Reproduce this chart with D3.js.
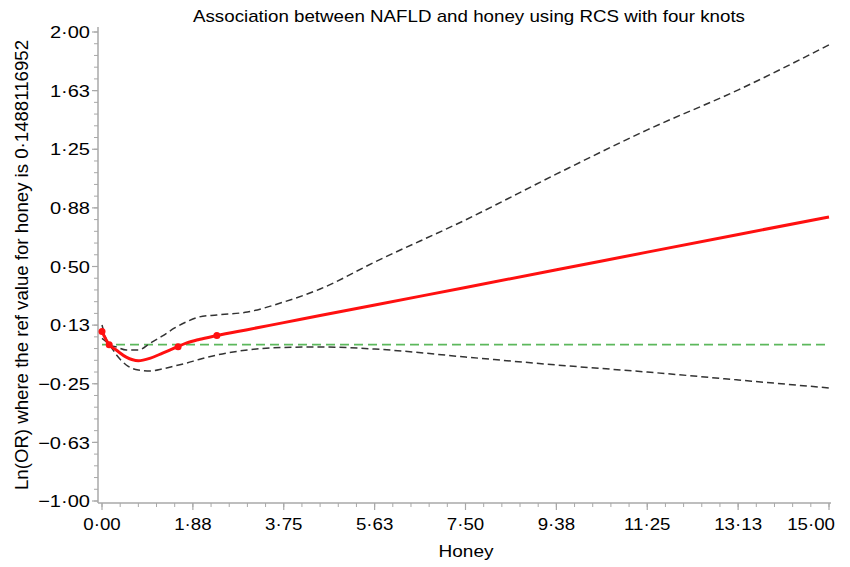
<!DOCTYPE html>
<html><head><meta charset="utf-8">
<script src="https://cdn.jsdelivr.net/npm/d3@7"></script>
<style>body{margin:0;background:#fff}svg{font-family:"Liberation Sans",Arial,sans-serif}</style>
</head><body>
<svg id="c" width="850" height="567"></svg>
<script>
const honey = [0, 0.1488, 0.3, 0.5, 0.75, 1.0, 1.25, 1.5, 1.75, 2.0, 2.37, 3, 3.75, 4.5, 5.63, 7.5, 9.38, 11.25, 13.13, 15];
const estimate = [0.084, 0.0, -0.036, -0.08, -0.103, -0.086, -0.054, -0.021, 0.011, 0.033, 0.058, 0.096, 0.141, 0.186, 0.254, 0.366, 0.479, 0.592, 0.705, 0.817];
const upper = [0.126, 0.0, -0.015, -0.034, -0.034, 0.011, 0.056, 0.107, 0.147, 0.177, 0.19, 0.209, 0.273, 0.356, 0.529, 0.798, 1.092, 1.374, 1.63, 1.918];
const lower = [0.04, 0.0, -0.066, -0.13, -0.162, -0.168, -0.155, -0.136, -0.117, -0.095, -0.066, -0.034, -0.018, -0.015, -0.028, -0.079, -0.13, -0.175, -0.226, -0.277];
const knots = [0, 0.1488, 1.57, 2.37];
const knotEst = [0.084, 0.0, -0.013, 0.058];
const yTicks = [-1.00, -0.625, -0.25, 0.125, 0.5, 0.875, 1.25, 1.625, 2.00];
const yTickLabels = ["\u22121·00", "\u22120·63", "\u22120·25", "0·13", "0·50", "0·88", "1·25", "1·63", "2·00"];
const xTicks = [0, 1.875, 3.75, 5.625, 7.5, 9.375, 11.25, 13.125, 15];
const xTickLabels = ["0·00", "1·88", "3·75", "5·63", "7·50", "9·38", "11·25", "13·13", "15·00"];

const svg = d3.select("#c");
const x = d3.scaleLinear().domain([0, 15]).range([102, 829]);
const y = d3.scaleLinear().domain([-1, 2]).range([501, 32]);
const axisCol = "#a8a8a8";
const txt = "#000";

// y axis
const ya = svg.append("g").attr("transform", "translate(98,0)");
ya.append("line").attr("x1",0).attr("x2",0).attr("y1",y(2)-5).attr("y2",503).attr("stroke",axisCol).attr("stroke-width",1.5);
const yMinor = d3.range(-1, 2.0001, 0.075);
ya.selectAll(".ym").data(yMinor).join("line").attr("x1",0).attr("x2",-4).attr("y1",d=>y(d)).attr("y2",d=>y(d)).attr("stroke",axisCol);
ya.selectAll(".yt").data(yTicks).join("line").attr("x1",0).attr("x2",-6).attr("y1",d=>y(d)).attr("y2",d=>y(d)).attr("stroke",axisCol).attr("stroke-width",1.2);
ya.selectAll("text").data(yTicks).join("text")
  .attr("transform", d=>`translate(-8,${y(d)}) scale(1.18,1)`)
  .attr("dy","0.36em").attr("text-anchor","end").attr("font-size",17).attr("fill",txt).text((d,i)=>yTickLabels[i]);

// x axis
const xa = svg.append("g").attr("transform", "translate(0,503)");
xa.append("line").attr("x1",98).attr("x2",831).attr("y1",0).attr("y2",0).attr("stroke",axisCol).attr("stroke-width",1.5);
const xMinor = d3.range(0, 15.0001, 0.375);
xa.selectAll(".xm").data(xMinor).join("line").attr("x1",d=>x(d)).attr("x2",d=>x(d)).attr("y1",0).attr("y2",4).attr("stroke",axisCol);
xa.selectAll(".xt").data(xTicks).join("line").attr("x1",d=>x(d)).attr("x2",d=>x(d)).attr("y1",0).attr("y2",7).attr("stroke",axisCol).attr("stroke-width",1.2);
xa.selectAll("text").data(xTicks).join("text")
  .attr("transform", (d,i)=> i===xTicks.length-1 ? `translate(835,27) scale(1.1,1)` : `translate(${x(d)},27) scale(1.1,1)`)
  .attr("text-anchor",(d,i)=> i===xTicks.length-1 ? "end" : "middle")
  .attr("font-size",17).attr("fill",txt).text((d,i)=>xTickLabels[i]);

// reference line
svg.append("line").attr("x1",x(0)).attr("x2",x(15)).attr("y1",y(0)).attr("y2",y(0)).attr("stroke","#5cb85c").attr("stroke-width",1.8).attr("stroke-dasharray","9,5");

const line = d3.line().curve(d3.curveMonotoneX);
const pts = arr => honey.map((h,i)=>[x(h), y(arr[i])]);
svg.append("path").attr("d", line(pts(upper))).attr("fill","none").attr("stroke","#333").attr("stroke-width",1.5).attr("stroke-dasharray","7,4");
svg.append("path").attr("d", line(pts(lower))).attr("fill","none").attr("stroke","#333").attr("stroke-width",1.5).attr("stroke-dasharray","7,4");
svg.append("path").attr("d", line(pts(estimate))).attr("fill","none").attr("stroke","#ff1010").attr("stroke-width",3);
svg.selectAll(".k").data(knots).join("circle").attr("cx",d=>x(d)).attr("cy",(d,i)=>y(knotEst[i])).attr("r",3.5).attr("fill","#ff1010");

// titles
svg.append("text").attr("x",469).attr("y",22).attr("text-anchor","middle").attr("font-size",17)
  .attr("textLength",552).attr("lengthAdjust","spacingAndGlyphs").attr("fill",txt).text("Association between NAFLD and honey using RCS with four knots");
svg.append("text").attr("transform","translate(466,557) scale(1.12,1)").attr("text-anchor","middle").attr("font-size",17).attr("fill",txt).text("Honey");
svg.append("text").attr("transform","translate(28,265) rotate(-90)").attr("text-anchor","middle").attr("font-size",18.5)
  .attr("textLength",450).attr("lengthAdjust","spacingAndGlyphs").attr("fill",txt).text("Ln(OR) where the ref value for honey is 0·1488116952");
</script>
</body></html>
